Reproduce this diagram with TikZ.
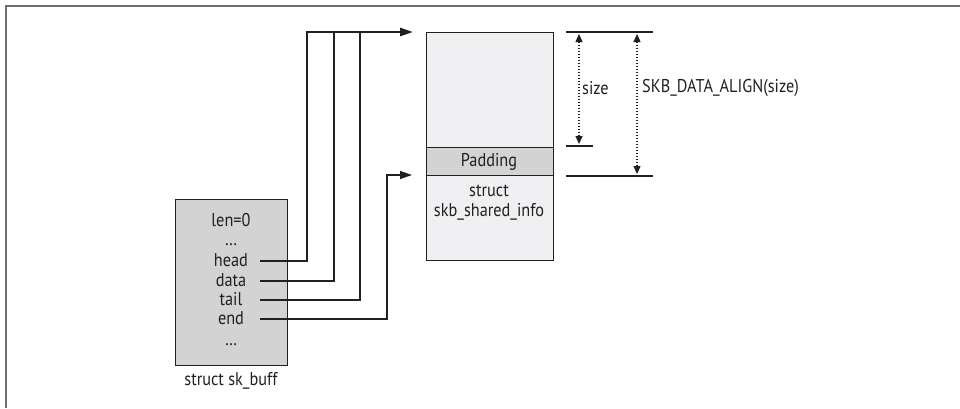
\documentclass[tikz,border=0pt]{standalone}
\usepackage{fontspec}
\setmainfont{PT Sans}[FakeStretch=0.88]
\usetikzlibrary{arrows.meta}
\definecolor{boxgray}{HTML}{D3D3D3}
\definecolor{lightbox}{HTML}{F0F0F2}
\definecolor{framegray}{HTML}{6E6E6E}
\definecolor{ink}{HTML}{231F20}
\begin{document}
\begin{tikzpicture}[x=1pt,y=-1pt,
  font=\fontsize{18.5}{20}\selectfont, text=ink,
  box/.style={draw=ink, line width=1.3pt, anchor=north west, inner sep=0pt},
  field/.style={minimum width=58pt, inner sep=0pt, text height=12pt, text depth=2pt},
  conn/.style={draw=ink, line width=1.3pt},
  tip/.style={-{Triangle[length=12pt,width=8pt]}},
  dimline/.style={draw=ink, line width=2.6pt},
  dimarrow/.style={draw=ink, line width=1.3pt, dash pattern=on 1.6pt off 1.4pt,
    {Triangle[length=8pt,width=7pt]}-{Triangle[length=8pt,width=7pt]}}]
\useasboundingbox (0,0) rectangle (960,408);
\draw[line width=1.5pt, draw=framegray] (6,408) -- (6,6) -- (960,6);
% sk_buff
\node[box, fill=boxgray, minimum width=112pt, minimum height=166pt] (skb) at (175,199) {};
\node[field] (len) at (231,221) {len=0};
\node[field] (dots1) at (231,240) {\dots};
\node[field] (head) at (231,261) {head};
\node[field] (data) at (231,281) {data};
\node[field] (tail) at (231,300) {tail};
\node[field] (end) at (231,319) {end};
\node[field] (dots2) at (231,340) {\dots};
\node (skbl) at (231,381) {struct sk\_buff};
% data buffer
\node[box, fill=lightbox, minimum width=127pt, minimum height=228pt] (buf) at (426,32) {};
\node[box, fill=boxgray, minimum width=127pt, minimum height=28pt] (pad) at (426,147) {};
\node (padl) at (489,162) {Padding};
\node[align=center, inner sep=0pt] (shinfo) at (489,203) {struct\\skb\_shared\_info};
\coordinate (t1) at (412,32);
\coordinate (t2) at (412,175);
% connectors
\draw[conn,tip] (head.east) -| (307,32) -- (t1);
\draw[conn,tip] (data.east) -| (334,32) -- (t1);
\draw[conn,tip] (tail.east) -| (360,32) -- (t1);
\draw[conn,tip] (end.east) -| (387,175) -- (t2);
% dimensions
\coordinate (d1a) at (566,32); \coordinate (d1b) at (653,32);
\coordinate (d2a) at (566,146); \coordinate (d2b) at (593,146);
\coordinate (d3a) at (566,176); \coordinate (d3b) at (653,176);
\draw[dimline] (d1a) -- (d1b);
\draw[dimline] (d2a) -- (d2b);
\draw[dimline] (d3a) -- (d3b);
\coordinate (s1) at (579,34); \coordinate (s2) at (579,144);
\coordinate (a1) at (637,34); \coordinate (a2) at (637,174);
\draw[dimarrow] (s1) -- (s2);
\draw[dimarrow] (a1) -- (a2);
\node[anchor=west, inner sep=0pt] (sizel) at (582,88) {size};
\node[anchor=west, inner sep=0pt] (alignl) at (642,88) {SKB\_DATA\_ALIGN(size)};
\end{tikzpicture}
\end{document}
